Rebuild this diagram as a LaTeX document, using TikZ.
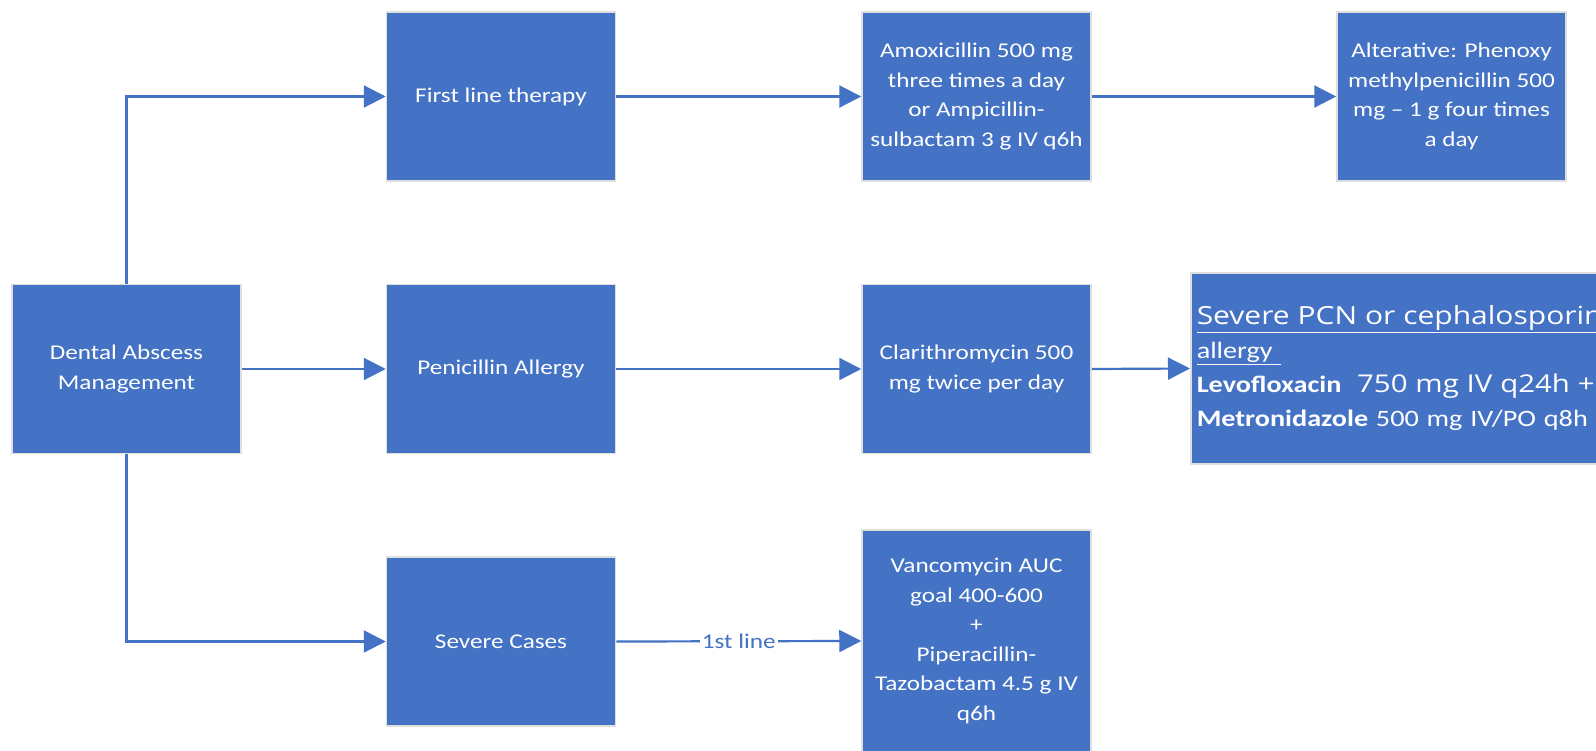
\documentclass[tikz,border=0pt]{standalone}
\usepackage{fontspec}
\setmainfont{Carlito}
\newfontfamily\boxfont[FakeStretch=1.2]{Carlito}
\newfontfamily\widefont[FakeStretch=1.2]{Open Sans}
\usepackage{xcolor}
\usetikzlibrary{arrows.meta, positioning, calc}
\definecolor{officeblue}{HTML}{4472C4}

\begin{document}
\begin{tikzpicture}[x=1pt, y=-1pt,
  box/.style={draw=gray!25, line width=1.5pt, fill=officeblue, text=white,
    minimum width=229pt, minimum height=169pt, align=center, inner sep=0pt,
    font=\boxfont\fontsize{21}{29.5}\selectfont},
  link/.style={draw=officeblue, line width=2.2pt, -{Triangle[length=22pt, width=22pt]}}]
  \useasboundingbox (0,0) rectangle (1596,751);
  \fill[white] (0,0) rectangle (1596,751);

  % Boxes
  \node[box] (dental) at (126.5,369) {Dental Abscess\\Management};
  \node[box] (first) at (501,96.5) {First line therapy};
  \node[box] (amox) at (976.5,96.5) {Amoxicillin 500 mg\\three times a day\\or Ampicillin-\\sulbactam 3 g IV q6h};
  \node[box] (alt) at (1451.5,96.5) {Alterative: Phenoxy\\methylpenicillin 500\\mg – 1 g four times\\a day};
  \node[box] (pen) at (501,369) {Penicillin Allergy};
  \node[box] (clari) at (976.5,369) {Clarithromycin 500\\mg twice per day};
  \node[box] (sevcases) at (501,641.5) {Severe Cases};
  \node[box, minimum height=222pt] (vanco) at (976.5,641) {Vancomycin AUC\\goal 400-600\\+\\Piperacillin-\\Tazobactam 4.5 g IV\\q6h};
  \node[box, anchor=west, minimum height=191pt, text width=430pt, inner xsep=6pt, align=left,
    font=\boxfont\fontsize{23.5}{34}\selectfont] (pcn) at (1190,368.5)
    {{\widefont\fontsize{25}{34}\selectfont\underline{Severe PCN or cephalosporin}}\\
     \underline{allergy\ }\\
     \textbf{Levofloxacin}\ \ {\widefont\fontsize{24.5}{34}\selectfont 750 mg IV q24h +}\\
     \textbf{Metronidazole} 500 mg IV/PO q8h};

  % Connectors
  \draw[link] (dental.north) |- (first.west);
  \draw[link] (dental.east) -- (pen.west);
  \draw[link] (dental.south) |- (sevcases.west);
  \foreach \a/\b in {first/amox, amox/alt, pen/clari, clari/pcn}
    \draw[link] (\a.east) -- (\b.west);
  \draw[link] (sevcases.east) -- node[fill=white, text=officeblue, inner sep=2pt,
    font=\boxfont\fontsize{21}{25}\selectfont] (firstline) {1st line} (vanco.west);
\end{tikzpicture}
\end{document}
